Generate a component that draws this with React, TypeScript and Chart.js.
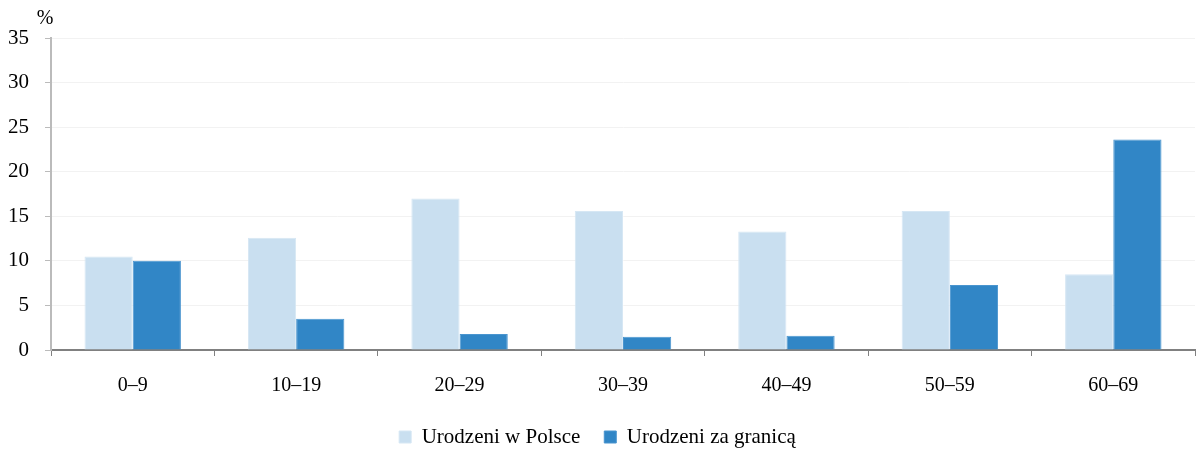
import React, { useEffect, useRef } from "react";
import { Chart, registerables } from "chart.js";

Chart.register(...registerables);

const categories = ["0–9", "10–19", "20–29", "30–39", "40–49", "50–59", "60–69"];
const bornInPoland = [10.5, 12.6, 17.0, 15.6, 13.3, 15.6, 8.5];
const bornAbroad = [10.0, 3.5, 1.8, 1.5, 1.6, 7.3, 23.6];
const seriesNames = ["Urodzeni w Polsce", "Urodzeni za granicą"];
const yTicks = [0, 5, 10, 15, 20, 25, 30, 35];

const FONT = "'Liberation Serif', 'Times New Roman', serif";

const percentPlugin = {
  id: "percentLabel",
  afterDraw(chart: any) {
    const ctx = chart.ctx;
    ctx.save();
    ctx.font = `20px ${FONT}`;
    ctx.fillStyle = "#000";
    ctx.textAlign = "center";
    ctx.textBaseline = "middle";
    ctx.fillText("%", 45, 19);
    ctx.restore();
  },
};

export default function App() {
  const ref = useRef<HTMLCanvasElement | null>(null);
  useEffect(() => {
    document.body.style.margin = "0";
    const chart = new Chart(ref.current!, {
      type: "bar",
      data: {
        labels: categories,
        datasets: [
          {
            label: seriesNames[0],
            data: bornInPoland,
            backgroundColor: "#c9dff0",
            borderColor: "#d6e7f4",
            borderWidth: 1,
            categoryPercentage: 0.59,
            barPercentage: 1,
          },
          {
            label: seriesNames[1],
            data: bornAbroad,
            backgroundColor: "#3186c6",
            borderColor: "#4a95cf",
            borderWidth: 1,
            categoryPercentage: 0.59,
            barPercentage: 1,
          },
        ],
      },
      options: {
        animation: false,
        responsive: false,
        maintainAspectRatio: false,
        layout: { padding: { top: 38, right: 2, left: 0, bottom: -8.5 } },
        plugins: {
          legend: {
            position: "bottom",
            labels: {
              font: { family: FONT, size: 21 },
              color: "#000",
              boxWidth: 12,
              boxHeight: 12,
              padding: 24,
            },
          },
          tooltip: { enabled: false },
        },
        scales: {
          x: {
            offset: true,
            afterFit: (scale: any) => {
              scale.height = 52.5;
            },
            grid: {
              offset: true,
              drawOnChartArea: false,
              drawTicks: true,
              tickLength: 6,
              color: "#808080",
            },
            border: { color: "#808080", width: 2 },
            ticks: {
              font: { family: FONT, size: 20 },
              color: "#000",
              padding: 18,
            },
          },
          y: {
            min: 0,
            max: 35,
            afterBuildTicks: (scale: any) => {
              scale.ticks = yTicks.map((v) => ({ value: v }));
            },
            afterFit: (scale: any) => {
              scale.width = 51;
            },
            grid: {
              color: "#f2f2f2",
              tickLength: 6,
              tickColor: "#bbbbbb",
            },
            border: { color: "#bbbbbb", width: 2 },
            ticks: {
              font: { family: FONT, size: 21 },
              color: "#000",
              padding: 16,
            },
          },
        },
      },
      plugins: [percentPlugin],
    });
    return () => chart.destroy();
  }, []);
  return (
    <div style={{ width: 1197, height: 449 }}>
      <canvas ref={ref} width={1197} height={449} />
    </div>
  );
}
